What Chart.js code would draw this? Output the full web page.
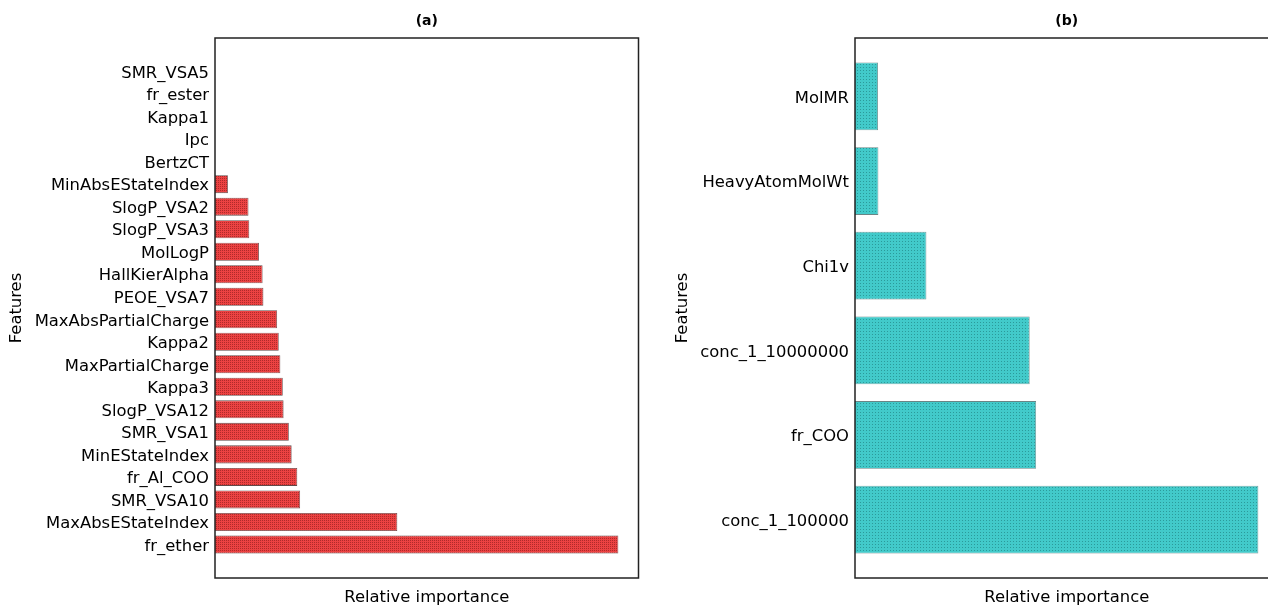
<!DOCTYPE html>
<html>
<head>
<meta charset="utf-8">
<script src="https://cdn.jsdelivr.net/npm/chart.js@4.4.1/dist/chart.umd.min.js"></script>
<style>
  body { margin: 0; width: 1268px; height: 608px; overflow: hidden; background: #fff; position: relative; }
  canvas { position: absolute; top: 0; }
</style>
</head>
<body>
<canvas id="chartA" width="660" height="608" style="left:0px"></canvas>
<canvas id="chartB" width="660" height="608" style="left:640px"></canvas>
<script>
// panel (a), listed top to bottom as in the figure
const featuresA = ['SMR_VSA5', 'fr_ester', 'Kappa1', 'Ipc', 'BertzCT', 'MinAbsEStateIndex',
  'SlogP_VSA2', 'SlogP_VSA3', 'MolLogP', 'HallKierAlpha', 'PEOE_VSA7', 'MaxAbsPartialCharge',
  'Kappa2', 'MaxPartialCharge', 'Kappa3', 'SlogP_VSA12', 'SMR_VSA1', 'MinEStateIndex',
  'fr_Al_COO', 'SMR_VSA10', 'MaxAbsEStateIndex', 'fr_ether']
const importanceA = [0, 0, 0, 0, 0, 0.032,
  0.083, 0.085, 0.109, 0.118, 0.120, 0.154,
  0.158, 0.162, 0.168, 0.170, 0.183, 0.190,
  0.204, 0.211, 0.452, 1.0]

// panel (b)
const featuresB = ['MolMR', 'HeavyAtomMolWt', 'Chi1v', 'conc_1_10000000', 'fr_COO', 'conc_1_100000']
const importanceB = [0.057, 0.058, 0.177, 0.433, 0.449, 1.0]

Chart.defaults.font.family = "'DejaVu Sans', sans-serif"
Chart.defaults.color = '#000'

function makePattern(base, dot, size, dots) {
  var c = document.createElement('canvas')
  c.width = size
  c.height = size
  var g = c.getContext('2d')
  g.fillStyle = base
  g.fillRect(0, 0, size, size)
  g.fillStyle = dot
  dots.forEach(function(d) { g.fillRect(d[0], d[1], 1, 1) })
  return g.createPattern(c, 'repeat')
}

var redHatch = makePattern('#ec4242', '#b02a2a', 4, [[0, 0], [2, 2], [2, 0], [0, 2]])
var cyanHatch = makePattern('#42caca', '#2b9a9a', 3, [[1, 1]])

// black box round the plot area, plus the panel title over its centre
const framePlugin = {
  id: 'frame',
  afterDatasetsDraw(chart, args, opts) {
    var a = chart.chartArea
    var ctx = chart.ctx
    ctx.save()
    ctx.strokeStyle = '#222'
    ctx.lineWidth = 1.5
    ctx.strokeRect(a.left, a.top, a.right - a.left, a.bottom - a.top)
    ctx.fillStyle = '#000'
    ctx.font = "bold 14px 'DejaVu Sans', sans-serif"
    ctx.textAlign = 'center'
    ctx.textBaseline = 'middle'
    ctx.fillText(opts.text, (a.left + a.right) / 2, 21)
    ctx.restore()
  }
}

function makeChart(id, title, features, values, fill, edge, yMargin, yTitlePad) {
  var n = features.length
  var positions = features.map((f, i) => n - 1 - i)
  return new Chart(document.getElementById(id), {
    type: 'bar',
    data: {
      datasets: [{
        data: values.map((v, i) => ({ x: v, y: positions[i] })),
        backgroundColor: fill,
        borderColor: edge,
        borderWidth: 0.8,
        borderSkipped: 'start',
        barPercentage: 0.8,
        categoryPercentage: 1.0
      }]
    },
    options: {
      indexAxis: 'y',
      responsive: false,
      animation: false,
      events: [],
      layout: { padding: { left: 0, right: 21.5, top: 38, bottom: 0 } },
      plugins: {
        legend: { display: false },
        tooltip: { enabled: false },
        title: { display: false },
        frame: { text: title }
      },
      scales: {
        x: {
          type: 'linear',
          min: 0,
          max: 1.05,
          grid: { display: false },
          border: { display: false },
          ticks: { display: false },
          title: { display: true, text: 'Relative importance', font: { size: 16.4 }, padding: { top: 0, bottom: 0 } },
          afterFit: function(scale) { scale.height = 30 }
        },
        y: {
          type: 'linear',
          offset: false,
          min: -0.4 - yMargin,
          max: n - 0.6 + yMargin,
          grid: { display: false, drawTicks: false },
          border: { display: false },
          ticks: {
            padding: 6,
            labelOffset: 2,
            font: { size: 16.4 },
            callback: function(v) { return features[n - 1 - v] }
          },
          afterBuildTicks: function(scale) {
            scale.ticks = positions.map(p => ({ value: p }))
          },
          title: { display: true, text: 'Features', font: { size: 16.4 }, padding: { top: yTitlePad, bottom: 0 } },
          afterFit: function(scale) { scale.width = 215 }
        }
      }
    },
    plugins: [framePlugin]
  })
}

// matplotlib adds 5% of the data span above and below
var chartA = makeChart('chartA', '(a)', featuresA, importanceA, redHatch, 'rgba(70,40,40,0.85)', 0.05 * (featuresA.length - 0.2), 7.2)
var chartB = makeChart('chartB', '(b)', featuresB, importanceB, cyanHatch, 'rgba(90,120,120,0.9)', 0.05 * (featuresB.length - 0.2), 33.2)
</script>
</body>
</html>
